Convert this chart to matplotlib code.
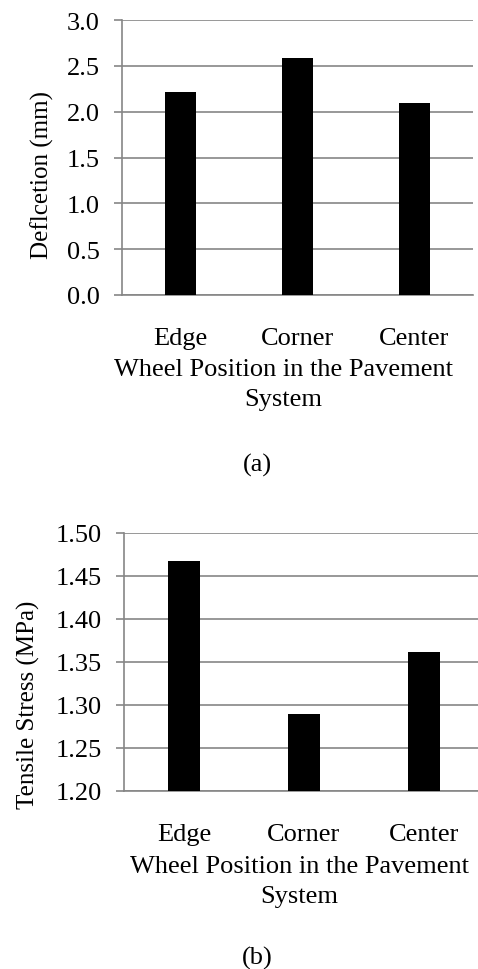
import numpy as np
import matplotlib
matplotlib.use("Agg")
import matplotlib.pyplot as plt

# wheel positions and results
positions = ["Edge", "Corner", "Center"]
deflection = [2.22, 2.59, 2.09]      # mm
tensile_stress = [1.467, 1.290, 1.362]  # MPa

defl_ticks = [0.0, 0.5, 1.0, 1.5, 2.0, 2.5, 3.0]
stress_ticks = [1.20, 1.25, 1.30, 1.35, 1.40, 1.45, 1.50]

plt.rcParams['font.family'] = ['Liberation Serif', 'DejaVu Serif']
grey = "#868686"
W, H = 478, 970
FS = 19

fig = plt.figure(figsize=(W / 100, H / 100), dpi=100)


def px_axes(left, top, right, bottom):
    # axes rectangle given in pixel coordinates of the figure
    return fig.add_axes([left / W, 1 - bottom / H, (right - left) / W, (bottom - top) / H])


def style(ax, ticks, fmt):
    x = np.arange(len(positions))
    ax.set_xlim(-0.5, len(positions) - 0.5)
    ax.set_ylim(ticks[0], ticks[-1])
    ax.set_yticks(ticks)
    ax.set_yticklabels([fmt.format(t) for t in ticks])
    ax.set_xticks(x)
    ax.set_xticklabels(positions)
    ax.yaxis.grid(True, color=grey, linewidth=1.2)
    ax.set_axisbelow(True)
    for s in ["top", "right"]:
        ax.spines[s].set_visible(False)
    for s in ["left", "bottom"]:
        ax.spines[s].set_color(grey)
        ax.spines[s].set_linewidth(1.2)
    ax.tick_params(axis="y", length=6, width=1.2, color=grey, labelsize=FS, pad=10)
    ax.tick_params(axis="x", length=0, labelsize=FS, pad=23)


# (a) deflection
ax1 = px_axes(122, 21, 473, 296)
ax1.bar(np.arange(3), deflection, width=0.26, color="black", zorder=3)
style(ax1, defl_ticks, "{:.1f}")
fig.text(42 / W, 1 - 175 / H, "Deflcetion (mm)", rotation=90, ha="center", va="center", fontsize=18)
fig.text(283.5 / W, 1 - 370 / H, "Wheel Position in the Pavement", ha="center", va="center", fontsize=FS)
fig.text(283.5 / W, 1 - 400 / H, "System", ha="center", va="center", fontsize=FS)
fig.text(257 / W, 1 - 465 / H, "(a)", ha="center", va="center", fontsize=FS)

# (b) tensile stress
ax2 = px_axes(124, 534, 484, 792)
ax2.bar(np.arange(3), tensile_stress, width=0.26, color="black", zorder=3)
style(ax2, stress_ticks, "{:.2f}")
fig.text(28 / W, 1 - 705 / H, "Tensile Stress (MPa)", rotation=90, ha="center", va="center", fontsize=18)
fig.text(299 / W, 1 - 867 / H, "Wheel Position in the Pavement", ha="center", va="center", fontsize=FS)
fig.text(299 / W, 1 - 897 / H, "System", ha="center", va="center", fontsize=FS)
fig.text(257 / W, 1 - 958 / H, "(b)", ha="center", va="center", fontsize=FS)

fig.savefig("out.png", dpi=100)
